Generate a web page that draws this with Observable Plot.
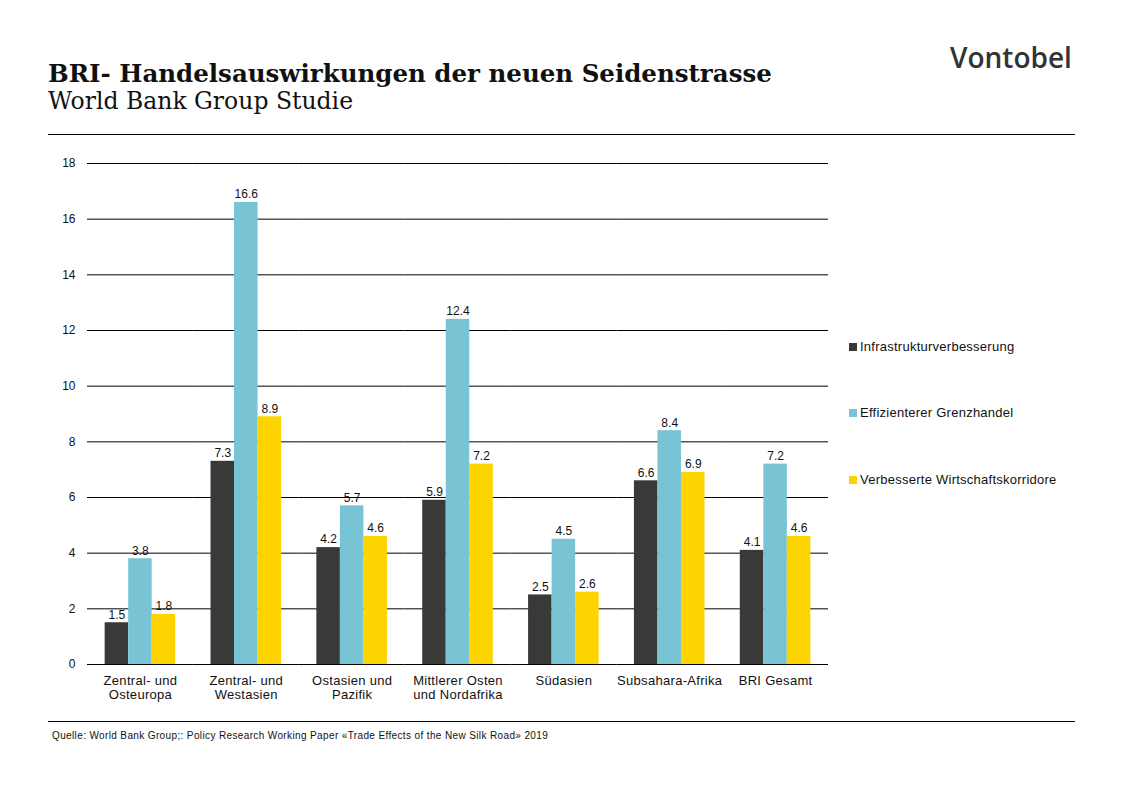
<!DOCTYPE html>
<html><head><meta charset="utf-8">
<script src="https://cdn.jsdelivr.net/npm/d3@7"></script>
<script src="https://cdn.jsdelivr.net/npm/@observablehq/plot@0.6"></script>
<style>
body{margin:0;background:#fff;width:1122px;height:793px;position:relative;overflow:hidden;font-family:"Liberation Sans",Arial,sans-serif;}
#title{position:absolute;left:48px;top:59px;font-family:"DejaVu Serif",serif;font-weight:bold;font-size:24.5px;color:#111;white-space:nowrap;}
#subtitle{position:absolute;left:48px;top:87px;font-family:"DejaVu Serif",serif;font-size:23.5px;color:#111;white-space:nowrap;}
#logo{position:absolute;left:950px;top:38px;font-family:"Open Sans","DejaVu Sans",sans-serif;font-weight:600;font-size:28px;color:#333;}
.hr{position:absolute;left:48px;width:1027px;height:1px;background:#000;}
#chart{position:absolute;left:0;top:140px;}
#legend{position:absolute;left:849px;top:0;font-size:13px;letter-spacing:0.25px;color:#111;}
.li{position:absolute;white-space:nowrap;}
.sw{display:inline-block;width:8px;height:8px;margin-right:3px;}
#caption{position:absolute;left:52px;top:730px;font-size:10px;letter-spacing:0.37px;color:#111;white-space:nowrap;}
</style></head>
<body>
<div id="title">BRI- Handelsauswirkungen der neuen Seidenstrasse</div>
<div id="subtitle">World Bank Group Studie</div>
<div id="logo">Vontobel</div>
<div class="hr" style="top:134px"></div>
<div id="chart"></div>
<div id="legend"></div>
<div class="hr" style="top:721px"></div>
<div id="caption">Quelle: World Bank Group;: Policy Research Working Paper «Trade Effects of the New Silk Road» 2019</div>
<script>
const categories = ["Zentral- und Osteuropa","Zentral- und Westasien","Ostasien und Pazifik","Mittlerer Osten und Nordafrika","Südasien","Subsahara-Afrika","BRI Gesamt"];
const categoryLabels = ["Zentral- und\nOsteuropa","Zentral- und\nWestasien","Ostasien und\nPazifik","Mittlerer Osten\nund Nordafrika","Südasien","Subsahara-Afrika","BRI Gesamt"];
const series = ["Infrastrukturverbesserung","Effizienterer Grenzhandel","Verbesserte Wirtschaftskorridore"];
const infrastruktur = [1.5,7.3,4.2,5.9,2.5,6.6,4.1];
const grenzhandel = [3.8,16.6,5.7,12.4,4.5,8.4,7.2];
const korridore = [1.8,8.9,4.6,7.2,2.6,6.9,4.6];
const colors = ["#393a38","#78c4d5","#fdd300"];
const yTicks = [0,2,4,6,8,10,12,14,16,18];

const seriesValues = [infrastruktur, grenzhandel, korridore];
const data = [];
categories.forEach((c,i)=>series.forEach((s,j)=>data.push({category:c, series:s, value:seriesValues[j][i]})));
const labelOf = new Map(categories.map((c,i)=>[c,categoryLabels[i]]));

const plot = Plot.plot({
  width: 840,
  height: 574,
  marginLeft: 87,
  marginRight: 12,
  marginTop: 23,
  marginBottom: 50,
  style: {fontFamily: '"Liberation Sans", Arial, sans-serif', fontSize: "12px", color: "#111", background: "transparent"},
  fx: {domain: categories, padding: 0, round: false, label: null, axis: null},
  x: {domain: series, paddingInner: 0, paddingOuter: 0.75, round: false, axis: null},
  y: {domain: [0,18], axis: null},
  color: {domain: series, range: colors},
  marks: [
    Plot.ruleY(yTicks, {stroke: "#000", strokeWidth: 1}),
    Plot.barY(data, {fx: "category", x: "series", y: "value", fill: "series"}),
    Plot.text(data, {fx: "category", x: "series", y: "value", text: d => d.value.toFixed(1), dy: -8, fontSize: 12, fill: "#111"}),
    Plot.axisY({ticks: yTicks, tickSize: 0, tickPadding: 12, label: null, fontSize: 12}),
    Plot.axisFx({anchor: "bottom", tickSize: 0, tickPadding: 10, label: null, fontSize: 13, lineHeight: 1.1, tickFormat: d => labelOf.get(d)})
  ]
});
plot.querySelectorAll('[aria-label="fx-axis tick label"] text').forEach(t => t.setAttribute("letter-spacing", "0.3"));
document.getElementById("chart").appendChild(plot);

const legend = document.getElementById("legend");
const legendTops = [339, 405, 472];
series.forEach((s,j)=>{
  const div = document.createElement("div");
  div.className = "li";
  div.style.top = legendTops[j] + "px";
  div.innerHTML = `<span class="sw" style="background:${colors[j]}"></span>${s}`;
  legend.appendChild(div);
});
</script>
</body></html>
